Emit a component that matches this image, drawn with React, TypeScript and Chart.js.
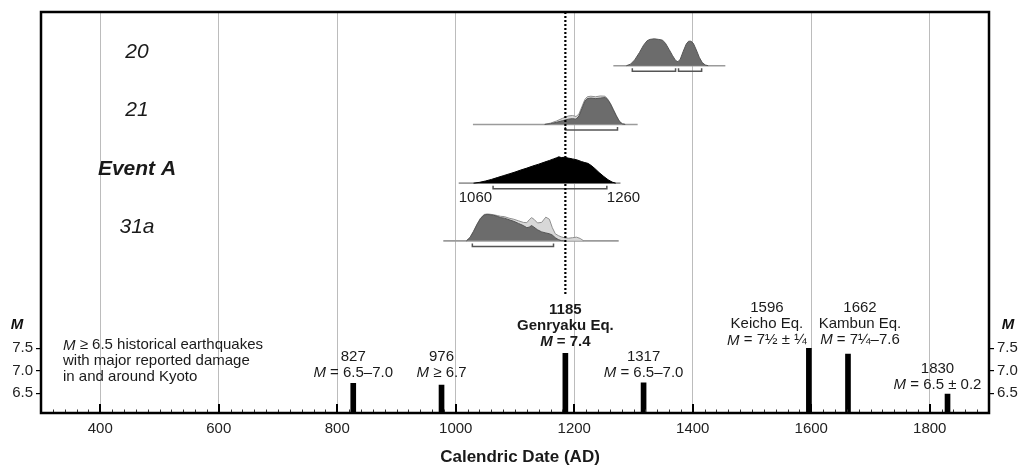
import React, { useEffect, useRef } from 'react';
import { Chart, registerables } from 'chart.js';

Chart.register(...registerables);

const FONT = '"Liberation Sans", Arial, Helvetica, sans-serif';

// ---------- axes ----------
const X_MIN = 300;
const X_MAX = 1900;
const X_LABEL_YEARS = [400, 600, 800, 1000, 1200, 1400, 1600, 1800];
const X_MINOR_STEP = 20;
const M_TICKS = [6.5, 7.0, 7.5];
const M_MIN = 6.056;
const M_MAX = 15.01;
const X_TITLE = 'Calendric Date (AD)';

// ---------- historical earthquakes ----------
const QUAKE_YEARS = [827, 976, 1185, 1317, 1596, 1662, 1830];
const QUAKE_M = [6.72, 6.68, 7.39, 6.73, 7.5, 7.37, 6.48];
const QUAKE_NAMES = ['', '', 'Genryaku Eq.', '', 'Keicho Eq.', 'Kambun Eq.', ''];
const QUAKE_MAG = [' = 6.5–7.0', ' ≥ 6.7', ' = 7.4', ' = 6.5–7.0', ' = 7½ ± ¼', ' = 7¼–7.6', ' = 6.5 ± 0.2'];
const GENRYAKU_YEAR = 1185;
const NOTE_LINES = ['historical earthquakes', 'with major reported damage', 'in and around Kyoto'];

// ---------- paleo-event age distributions ----------
const EVENT_LABELS = ['20', '21', 'Event A', '31a'];

const E20_YEARS = [1288, 1295, 1302, 1310, 1317, 1323, 1328, 1335, 1342, 1349, 1354, 1360, 1366, 1371, 1375, 1379, 1384, 1389, 1393, 1397, 1401, 1406, 1411, 1416, 1421, 1426];
const E20_POST = [0, 0.06, 0.22, 0.5, 0.78, 0.95, 1.0, 1.02, 1.0, 0.97, 0.85, 0.62, 0.38, 0.2, 0.15, 0.25, 0.55, 0.82, 0.93, 0.93, 0.85, 0.6, 0.32, 0.12, 0.03, 0];
const E20_SPAN = [1266, 1455];
const E20_RANGES = [[1298, 1371], [1376, 1415]];

const E21_YEARS = [1150, 1160, 1170, 1180, 1190, 1197, 1203, 1208, 1213, 1218, 1222, 1228, 1236, 1244, 1252, 1256, 1261, 1266, 1271, 1276, 1281, 1286];
const E21_POST = [0, 0.03, 0.08, 0.14, 0.2, 0.22, 0.2, 0.32, 0.6, 0.88, 0.98, 1.0, 0.98, 1.0, 1.02, 0.95, 0.78, 0.55, 0.32, 0.12, 0.02, 0];
const E21_PRIOR = [0, 0.05, 0.13, 0.23, 0.32, 0.34, 0.3, 0.4, 0.68, 0.95, 1.05, 1.07, 1.05, 1.08, 1.07, 0.98, 0.8, 0.57, 0.34, 0.13, 0.03, 0];
const E21_SPAN = [1029, 1307];
const E21_RANGES = [[1185, 1273]];

const EA_YEARS = [1030, 1040, 1050, 1060, 1070, 1080, 1090, 1100, 1110, 1120, 1130, 1140, 1150, 1158, 1165, 1170, 1174, 1178, 1183, 1190, 1197, 1205, 1212, 1218, 1223, 1228, 1235, 1242, 1250, 1257, 1264, 1270];
const EA_POST = [0, 0.03, 0.08, 0.14, 0.21, 0.28, 0.35, 0.42, 0.5, 0.57, 0.65, 0.72, 0.8, 0.86, 0.92, 0.96, 1.0, 0.97, 0.98, 0.95, 0.92, 0.88, 0.82, 0.78, 0.75, 0.68, 0.55, 0.4, 0.25, 0.13, 0.04, 0];
const EA_SPAN = [1005, 1278];
const EA_RANGES = [[1063, 1255]];
const EA_RANGE_LABELS = ['1060', '1260'];

const E31_YEARS = [1018, 1024, 1030, 1036, 1042, 1048, 1053, 1058, 1064, 1070, 1076, 1082, 1090, 1098, 1106, 1114, 1120, 1124, 1128, 1132, 1138, 1145, 1152, 1158, 1163, 1168, 1173, 1178, 1183];
const E31_POST = [0, 0.12, 0.35, 0.62, 0.85, 0.98, 1.0, 0.99, 0.97, 0.93, 0.88, 0.86, 0.8, 0.74, 0.66, 0.58, 0.5, 0.52, 0.58, 0.52, 0.42, 0.34, 0.3, 0.27, 0.22, 0.12, 0.05, 0.01, 0];
const E31_PRIOR_YEARS = [1018, 1024, 1030, 1036, 1042, 1048, 1053, 1058, 1064, 1070, 1076, 1082, 1090, 1098, 1106, 1114, 1120, 1124, 1128, 1132, 1138, 1145, 1152, 1158, 1163, 1168, 1173, 1178, 1183, 1190, 1197, 1204, 1210, 1216];
const E31_PRIOR = [0, 0.13, 0.37, 0.64, 0.87, 1.0, 1.02, 1.01, 0.99, 0.96, 0.93, 0.92, 0.86, 0.82, 0.76, 0.7, 0.69, 0.8, 0.88, 0.82, 0.68, 0.7, 0.9, 0.82, 0.5, 0.27, 0.2, 0.15, 0.12, 0.1, 0.12, 0.14, 0.09, 0];
const E31_SPAN = [979, 1275];
const E31_RANGES = [[1028, 1165]];

// ---------- layout / style (not data) ----------
const PLOT_TOP = 10;
const PLOT_BOTTOM = 413;
const ROW_BASE_PX = [64, 123, 182, 240];
const ROW_UNIT_PX = 26.5;
const LABEL_DX = [0, 0, 0, 0, -42, 12, -10];
const LABEL_GAP = [10, 12, 11, 10, 8, 14, 9];
const DARK = '#6c6c6c';
const LIGHT = '#d8d8d8';

type Ev = {
  years: number[];
  post: number[];
  priorYears?: number[];
  prior?: number[];
  span: number[];
  ranges: number[][];
  fill: string;
  border: string;
};

const EVENTS: Ev[] = [
  { years: E20_YEARS, post: E20_POST, span: E20_SPAN, ranges: E20_RANGES, fill: DARK, border: '#555' },
  { years: E21_YEARS, post: E21_POST, priorYears: E21_YEARS, prior: E21_PRIOR, span: E21_SPAN, ranges: E21_RANGES, fill: DARK, border: '#555' },
  { years: EA_YEARS, post: EA_POST, span: EA_SPAN, ranges: EA_RANGES, fill: '#000', border: '#000' },
  { years: E31_YEARS, post: E31_POST, priorYears: E31_PRIOR_YEARS, prior: E31_PRIOR, span: E31_SPAN, ranges: E31_RANGES, fill: DARK, border: '#555' },
];

const rowId = (i: number) => 'yRow' + i;

type Seg = [string, boolean];

function drawRich(ctx: CanvasRenderingContext2D, segs: Seg[], x: number, y: number, align: 'left' | 'center' | 'right', size: number, bold: boolean, color: string) {
  const font = (it: boolean) => `${it ? 'italic ' : ''}${bold ? 'bold ' : ''}${size}px ${FONT}`;
  const widths = segs.map(([t, it]) => {
    ctx.font = font(it);
    return ctx.measureText(t).width;
  });
  const total = widths.reduce((a, b) => a + b, 0);
  let cx = align === 'left' ? x : align === 'center' ? x - total / 2 : x - total;
  ctx.textBaseline = 'middle';
  ctx.textAlign = 'left';
  ctx.fillStyle = color;
  segs.forEach(([t, it], k) => {
    ctx.font = font(it);
    ctx.fillText(t, cx, y);
    cx += widths[k];
  });
}

const overlayPlugin = {
  id: 'overlay',
  afterDatasetsDraw(chart: any) {
    const { ctx, chartArea: ca, scales } = chart;
    const xs = scales.x;
    const ym = scales.y;
    ctx.save();

    // dotted line at 1185
    const xd = xs.getPixelForValue(GENRYAKU_YEAR);
    ctx.strokeStyle = '#000';
    ctx.lineWidth = 2.2;
    ctx.setLineDash([2, 2]);
    ctx.beginPath();
    ctx.moveTo(xd, ca.top);
    ctx.lineTo(xd, ym.getPixelForValue(QUAKE_M[2]) - 58);
    ctx.stroke();
    ctx.setLineDash([]);

    // inward ticks on x axis
    for (let v = X_MIN + X_MINOR_STEP; v < X_MAX; v += X_MINOR_STEP) {
      const major = v % 200 === 0;
      const xp = xs.getPixelForValue(v);
      ctx.strokeStyle = major ? '#000' : '#333';
      ctx.lineWidth = major ? 2 : 1;
      const x = major ? Math.round(xp) : Math.round(xp) + 0.5;
      ctx.beginPath();
      ctx.moveTo(x, ca.bottom);
      ctx.lineTo(x, ca.bottom - (major ? 9 : 3.5));
      ctx.stroke();
    }

    // frame
    ctx.strokeStyle = '#000';
    ctx.lineWidth = 2.5;
    ctx.strokeRect(ca.left, ca.top, ca.right - ca.left, ca.bottom - ca.top);

    // event labels
    EVENT_LABELS.forEach((lab, i) => {
      const yb = scales[rowId(i)].getPixelForValue(0);
      ctx.font = `italic ${i === 2 ? 'bold ' : ''}21px ${FONT}`;
      ctx.fillStyle = '#1a1a1a';
      ctx.textAlign = 'center';
      ctx.textBaseline = 'middle';
      ctx.fillText(lab, ca.left + 96, yb - 14);
    });

    // Event A range labels
    {
      const yb = scales[rowId(2)].getPixelForValue(0);
      ctx.font = `15px ${FONT}`;
      ctx.fillStyle = '#1a1a1a';
      ctx.textBaseline = 'middle';
      ctx.textAlign = 'right';
      ctx.fillText(EA_RANGE_LABELS[0], xs.getPixelForValue(EA_RANGES[0][0]) - 1, yb + 15);
      ctx.textAlign = 'left';
      ctx.fillText(EA_RANGE_LABELS[1], xs.getPixelForValue(EA_RANGES[0][1]), yb + 15);
    }

    // M axis letters
    const yM = ym.getPixelForValue(7.5) - 23;
    drawRich(ctx, [['M', true]], 17, yM, 'center', 15, true, '#111');
    drawRich(ctx, [['M', true]], ca.right + 19, yM, 'center', 15, true, '#111');

    // description note
    const yn = ym.getPixelForValue(7.5) - 3;
    drawRich(ctx, [['M', true], [' ≥ 6.5 ' + NOTE_LINES[0], false]], ca.left + 22, yn, 'left', 15, false, '#1a1a1a');
    drawRich(ctx, [[NOTE_LINES[1], false]], ca.left + 22, yn + 16, 'left', 15, false, '#1a1a1a');
    drawRich(ctx, [[NOTE_LINES[2], false]], ca.left + 22, yn + 32, 'left', 15, false, '#1a1a1a');

    // quake labels
    QUAKE_YEARS.forEach((yr, i) => {
      const cx = xs.getPixelForValue(yr) + LABEL_DX[i];
      const yBottom = ym.getPixelForValue(QUAKE_M[i]) - LABEL_GAP[i];
      const bold = i === 2;
      const lines: Seg[][] = [[[String(yr), false]]];
      if (QUAKE_NAMES[i]) lines.push([[QUAKE_NAMES[i], false]]);
      lines.push([['M', true], [QUAKE_MAG[i], false]]);
      const n = lines.length;
      lines.forEach((segs, k) => {
        drawRich(ctx, segs, cx, yBottom - (n - 1 - k) * 16, 'center', 15, bold, '#1a1a1a');
      });
    });

    // x title
    ctx.font = `bold 17px ${FONT}`;
    ctx.fillStyle = '#1a1a1a';
    ctx.textAlign = 'center';
    ctx.textBaseline = 'middle';
    ctx.fillText(X_TITLE, (ca.left + ca.right) / 2 + 5, 457);

    ctx.restore();
  },
};

export default function App() {
  const ref = useRef<HTMLCanvasElement | null>(null);

  useEffect(() => {
    if (!ref.current) return;
    const datasets: any[] = [];
    const rowScales: any = {};

    EVENTS.forEach((ev, i) => {
      const axis = rowId(i);
      const base = ROW_BASE_PX[i];
      rowScales[axis] = {
        type: 'linear',
        axis: 'y',
        position: 'left',
        display: false,
        min: -(PLOT_BOTTOM - base) / ROW_UNIT_PX,
        max: (base - PLOT_TOP) / ROW_UNIT_PX,
      };
      datasets.push({
        type: 'line',
        data: ev.span.map((x) => ({ x, y: 0 })),
        yAxisID: axis,
        borderColor: '#9b9b9b',
        borderWidth: 1.6,
        pointRadius: 0,
        fill: false,
        order: 60,
      });
      if (ev.prior && ev.priorYears) {
        datasets.push({
          type: 'line',
          data: ev.priorYears.map((x, k) => ({ x, y: ev.prior![k] })),
          yAxisID: axis,
          borderColor: '#8f8f8f',
          borderWidth: 1,
          backgroundColor: LIGHT,
          fill: { value: 0 },
          pointRadius: 0,
          tension: 0,
          order: 50,
        });
      }
      datasets.push({
        type: 'line',
        data: ev.years.map((x, k) => ({ x, y: ev.post[k] })),
        yAxisID: axis,
        borderColor: ev.border,
        borderWidth: 1,
        backgroundColor: ev.fill,
        fill: { value: 0 },
        pointRadius: 0,
        tension: 0,
        order: 40,
      });
      ev.ranges.forEach(([a, b]) => {
        datasets.push({
          type: 'line',
          data: [
            { x: a, y: -0.1 },
            { x: a, y: -0.21 },
            { x: b, y: -0.21 },
            { x: b, y: -0.1 },
          ],
          yAxisID: axis,
          borderColor: '#555',
          borderWidth: 1.5,
          pointRadius: 0,
          fill: false,
          order: 30,
        });
      });
    });

    datasets.push({
      type: 'bar',
      data: QUAKE_YEARS.map((x, k) => ({ x, y: QUAKE_M[k] })),
      yAxisID: 'y',
      backgroundColor: '#000',
      barThickness: 5,
      order: 5,
    });

    const yCommon = (position: string) => ({
      type: 'linear',
      axis: 'y',
      position,
      min: M_MIN,
      max: M_MAX,
      afterBuildTicks: (s: any) => {
        s.ticks = M_TICKS.map((v) => ({ value: v }));
      },
      afterFit: (s: any) => {
        s.width = 41;
      },
      grid: { drawOnChartArea: false, color: '#000', tickLength: 5, lineWidth: 1.2, offset: false },
      border: { display: false },
      ticks: {
        font: { family: FONT, size: 15 },
        color: '#222',
        padding: 3,
        callback: (v: any) => Number(v).toFixed(1),
      },
    });

    const chart = new Chart(ref.current, {
      type: 'line',
      data: { datasets },
      options: {
        animation: false,
        responsive: false,
        events: [],
        layout: { padding: { top: PLOT_TOP, left: 0, right: 0, bottom: 0 } },
        plugins: { legend: { display: false }, tooltip: { enabled: false } },
        scales: {
          x: {
            type: 'linear',
            axis: 'x',
            min: X_MIN,
            max: X_MAX,
            offset: false,
            afterBuildTicks: (s: any) => {
              s.ticks = X_LABEL_YEARS.map((v) => ({ value: v }));
            },
            afterFit: (s: any) => {
              s.height = 468 - PLOT_BOTTOM;
            },
            grid: { color: '#bcbcbc', lineWidth: 1, drawTicks: false, offset: false },
            border: { display: false },
            ticks: {
              font: { family: FONT, size: 15 },
              color: '#222',
              padding: 7,
              maxRotation: 0,
              autoSkip: false,
              callback: (v: any) => String(v),
            },
          },
          y: yCommon('left'),
          y2: yCommon('right'),
          ...rowScales,
        } as any,
      },
      plugins: [overlayPlugin],
    } as any);

    return () => chart.destroy();
  }, []);

  return (
    <canvas
      ref={ref}
      width={1030}
      height={468}
      style={{ position: 'absolute', left: 0, top: 0, width: 1030, height: 468, display: 'block', background: '#fff' }}
    />
  );
}
